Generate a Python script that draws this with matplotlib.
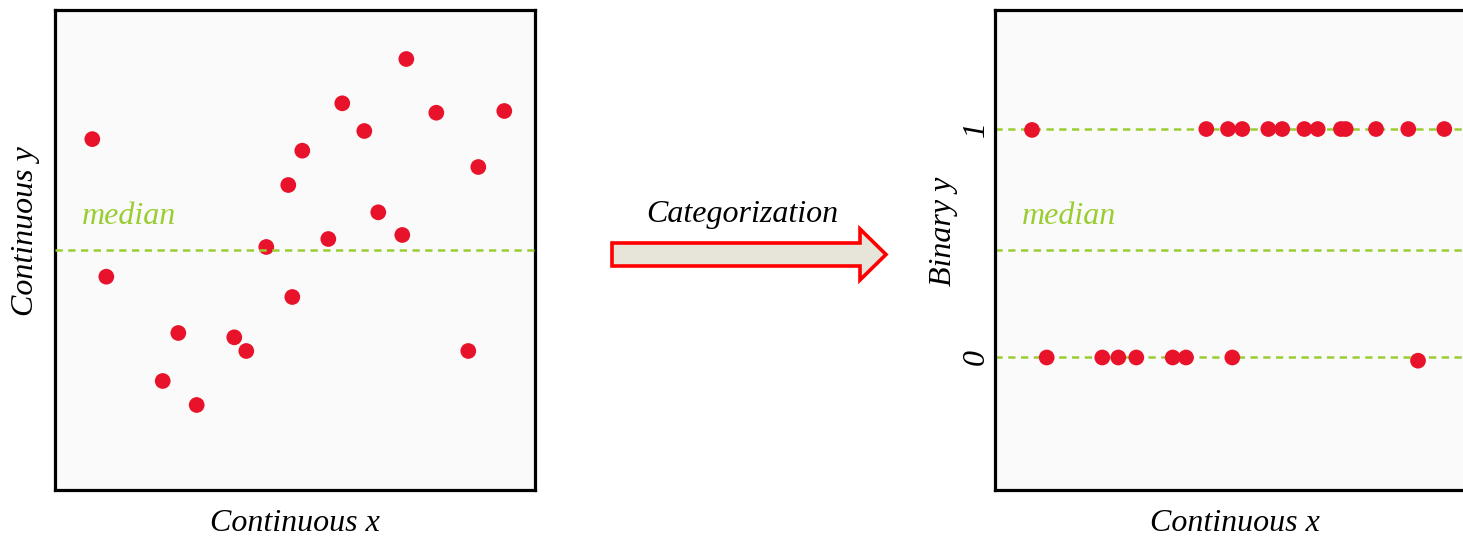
import matplotlib
matplotlib.use("Agg")
import matplotlib.pyplot as plt
from matplotlib.patches import Polygon

# ---- data -------------------------------------------------------------
# continuous x / continuous y sample
cont_x = [0.777, 1.069, 2.244, 2.569, 2.952, 3.735, 3.985, 4.402, 4.860, 4.944,
          5.152, 5.694, 5.985, 6.444, 6.735, 7.235, 7.319, 7.944, 8.610, 8.819, 9.360]
cont_y = [7.31, 4.444, 2.271, 3.271, 1.771, 3.181, 2.896, 5.063, 6.354, 4.021,
          7.069, 5.229, 8.056, 7.479, 5.785, 5.313, 8.979, 7.860, 2.896, 6.729, 7.896]
median_y = 5.0

# continuous x / dichotomised y
bin_x = [0.771, 4.402, 4.854, 5.152, 5.694, 5.985, 6.444, 6.723, 7.208, 7.306, 7.938, 8.610, 9.360,
         1.077, 2.235, 2.569, 2.944, 3.702, 3.979, 4.944, 8.813]
bin_y = [0.996, 1, 1, 1, 1, 1, 1, 1, 1, 1, 1, 1, 1,
         0, 0, 0, 0, 0, 0, 0, -0.014]
bin_levels = [0, 1]
bin_tick_labels = ["0", "1"]
bin_median = 0.470

# ---- style ------------------------------------------------------------
W, H = 1463, 537
RED = "#E8132B"
GREEN = "#9ACD32"
FACE = "#FAFAFA"
SERIF = ["Liberation Serif", "DejaVu Serif"]
FS = 23
MS = 128

fig = plt.figure(figsize=(W / 100, H / 100), dpi=100)
fig.patch.set_facecolor("white")


def px_box(x0, y0, x1, y1):
    """Axes rectangle from pixel corners (top-left origin)."""
    return [x0 / W, (H - y1) / H, (x1 - x0) / W, (y1 - y0) / H]


def style_axes(ax):
    ax.set_facecolor(FACE)
    for s in ax.spines.values():
        s.set_linewidth(2.3)
        s.set_color("black")
    ax.tick_params(length=0)


LW = 1.8
dash = (0, (2.9, 2.2))

# ---- left panel -------------------------------------------------------
axL = fig.add_axes(px_box(55, 10, 535, 490))
style_axes(axL)
axL.set_xlim(0, 10)
axL.set_ylim(0, 10)
axL.set_xticks([])
axL.set_yticks([])
axL.scatter(cont_x, cont_y, s=MS, color=RED, edgecolors="none", zorder=2)
axL.axhline(median_y, color=GREEN, lw=LW, ls=dash, zorder=3)
axL.text(27 / 480, (490 - 224) / 480, "median", transform=axL.transAxes,
         ha="left", va="baseline", color=GREEN, fontsize=FS,
         family=SERIF, style="italic")

# ---- right panel ------------------------------------------------------
axR = fig.add_axes(px_box(995, 10, 1475, 490))
style_axes(axR)
axR.set_xlim(0, 10)
axR.set_ylim(-0.580, 1.521)
axR.set_xticks([])
for lvl in bin_levels:
    axR.axhline(lvl, color=GREEN, lw=LW, ls=dash, zorder=1)
axR.axhline(bin_median, color=GREEN, lw=LW, ls=dash, zorder=1)
axR.scatter(bin_x, bin_y, s=MS, color=RED, edgecolors="none", zorder=3)
axR.set_yticks(bin_levels)
axR.set_yticklabels(bin_tick_labels, rotation=90, va="center",
                    fontsize=FS, family=SERIF, style="italic")
axR.tick_params(axis="y", pad=3)
axR.text(27 / 480, (490 - 224) / 480, "median", transform=axR.transAxes,
         ha="left", va="baseline", color=GREEN, fontsize=FS,
         family=SERIF, style="italic")

# ---- axis titles ------------------------------------------------------
def ftext(x, y, s, **kw):
    fig.text(x / W, 1 - y / H, s, fontsize=FS, family=SERIF, style="italic", **kw)


ftext(295, 531, "Continuous x", ha="center", va="baseline")
ftext(1235, 531, "Continuous x", ha="center", va="baseline")
ftext(26, 231, "Continuous y", ha="center", va="center", rotation=90)
ftext(943, 231, "Binary y", ha="center", va="center", rotation=90)
ftext(742, 222, "Categorization", ha="center", va="baseline")

# ---- block arrow between the panels ------------------------------------
arrow_px = [(612, 243), (860, 243), (860, 229), (886, 254.5),
            (860, 280), (860, 266), (612, 266)]
arrow = Polygon([(x / W, 1 - y / H) for x, y in arrow_px], closed=True,
                transform=fig.transFigure, facecolor="#E7E4D9",
                edgecolor="#FF0000", linewidth=2.6, joinstyle="miter")
fig.patches.append(arrow)

fig.savefig("out.png", dpi=100, facecolor="white")
